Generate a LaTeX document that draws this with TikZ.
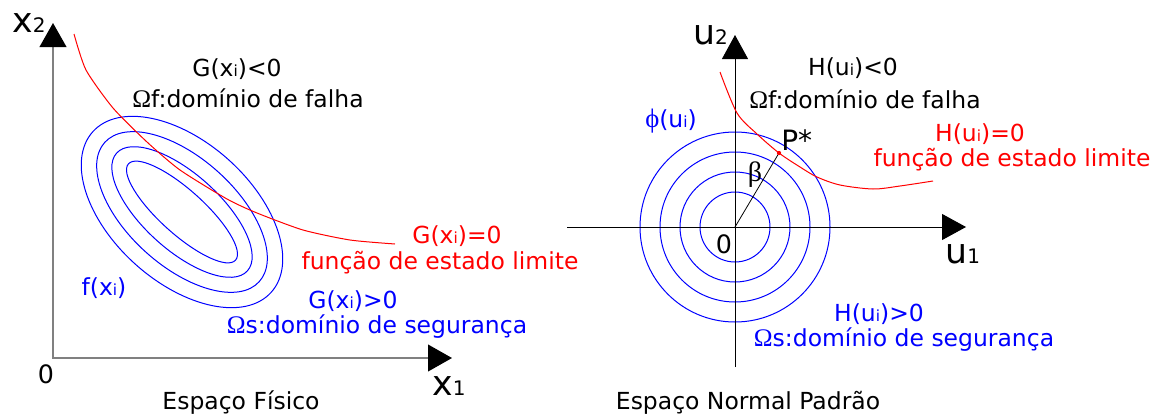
\documentclass[tikz,border=0pt]{standalone}
\usepackage{fontspec}
\setmainfont{DejaVu Sans}
\newfontfamily\grk{Liberation Serif}
\usetikzlibrary{arrows.meta}
\newcommand\smi[1]{{\fontsize{11.5pt}{11.5pt}\selectfont #1}}
\newcommand\smd[1]{{\fontsize{15pt}{15pt}\selectfont #1}}
\newcommand\Om{{\grk\fontsize{19pt}{20pt}\selectfont Ω}}
\begin{document}
\begin{tikzpicture}[x=0.75pt, y=-0.75pt,
  lbl/.style={font=\fontsize{17.6pt}{20pt}\selectfont, inner sep=0pt, anchor=base},
  axlbl/.style={font=\fontsize{26pt}{30pt}\selectfont, inner sep=0pt, anchor=base west},
  zerolbl/.style={font=\fontsize{19pt}{22pt}\selectfont, inner sep=0pt, anchor=base},
  contour/.style={blue, line width=0.75pt},
  limitcurve/.style={red, line width=0.75pt},
  axisL/.style={gray, line width=1.5pt},
  axisR/.style={black, line width=0.75pt, -{Triangle[width=19.5pt,length=18pt]}}]
\useasboundingbox (0,0) rectangle (1152,414);

% ---------- left panel ----------
\coordinate (O1) at (53,358);
\coordinate (X1) at (452,358);
\coordinate (Y1) at (53,23);
\begin{scope}[shift={(182,212)}, rotate=-42]
  \draw[contour] (0,0) ellipse [x radius=54pt, y radius=16.5pt];
  \draw[contour] (0,0) ellipse [x radius=66pt, y radius=28.5pt];
  \draw[contour] (0,0) ellipse [x radius=78pt, y radius=40.5pt];
  \draw[contour] (0,0) ellipse [x radius=90pt, y radius=52.5pt];
\end{scope}
\draw[axisL, {Triangle[width=20pt,length=18pt,color=black]}-{Triangle[width=20pt,length=18pt,color=black]}] (Y1) -- (O1) -- (X1);
\draw[limitcurve] plot[smooth, tension=0.4] coordinates {(74,34) (86,70) (113,108) (147,142) (180,170) (227,199) (257,213) (303,230) (350,240) (395,244)};

\node[axlbl] (lx2) at (12,32) {x\smd{2}};
\node[axlbl] (lx1) at (432,395) {x\smd{1}};
\node[zerolbl] (l0) at (46,383) {0};
\node[lbl] (lGneg) at (237,76) {G(x\smi{i})<0};
\node[lbl] (lOf) at (248,107) {\Om f:domínio de falha};
\node[lbl, text=blue] (lf) at (104,295) {f(x\smi{i})};
\node[lbl, text=red] (lG0) at (457,243) {G(x\smi{i})=0};
\node[lbl, text=red] (lfe) at (440,269) {função de estado limite};
\node[lbl, text=blue] (lGpos) at (353,308) {G(x\smi{i})>0};
\node[lbl, text=blue] (lOs) at (377,333) {\Om s:domínio de segurança};
\node[lbl] (lEF) at (241,409) {Espaço Físico};

% ---------- right panel ----------
\coordinate (O2) at (735,227);
\coordinate (U1a) at (567,227);
\coordinate (U1b) at (966,227);
\coordinate (U2a) at (735,367);
\coordinate (U2b) at (735,35);
\coordinate (P) at (779,153);
\foreach \r in {26.25,41.25,56.25,71.25}
  \draw[contour] (O2) circle (\r pt);
\draw[axisR] (U1a) -- (U1b);
\draw[axisR] (U2a) -- (U2b);
\draw[black, line width=0.6pt] (O2) -- (P);
\draw[limitcurve] plot[smooth, tension=0.5] coordinates {(720,72) (737,113) (757,134) (779,153) (800,167) (817,177) (840,185) (873,189) (900,186) (933,181)};
\fill[red] (P) circle (1.6pt);

\node[axlbl] (lu2) at (693,44) {u\smd{2}};
\node[axlbl] (lu1) at (945,263) {u\smd{1}};
\node[zerolbl] (r0) at (724,253) {0};
\node[lbl] (rHneg) at (853,75) {H(u\smi{i})<0};
\node[lbl] (rOf) at (865,108) {\Om f:domínio de falha};
\node[lbl, text=blue] (rphi) at (671,127) {{\grk\fontsize{20pt}{22pt}\selectfont ϕ}(u\smi{i})};
\node[font=\fontsize{21pt}{24pt}\selectfont, inner sep=0pt, anchor=base west] (rP) at (781,150) {P*};
\node[font=\fontsize{21pt}{24pt}\selectfont\grk, inner sep=0pt, anchor=base] (rbeta) at (755,181) {β};
\node[lbl, text=red] (rH0) at (980,141) {H(u\smi{i})=0};
\node[lbl, text=red] (rfe) at (1012,166) {função de estado limite};
\node[lbl, text=blue] (rHpos) at (879,321) {H(u\smi{i})>0};
\node[lbl, text=blue] (rOs) at (904,346) {\Om s:domínio de segurança};
\node[lbl] (rEN) at (748,409) {Espaço Normal Padrão};
\end{tikzpicture}
\end{document}
